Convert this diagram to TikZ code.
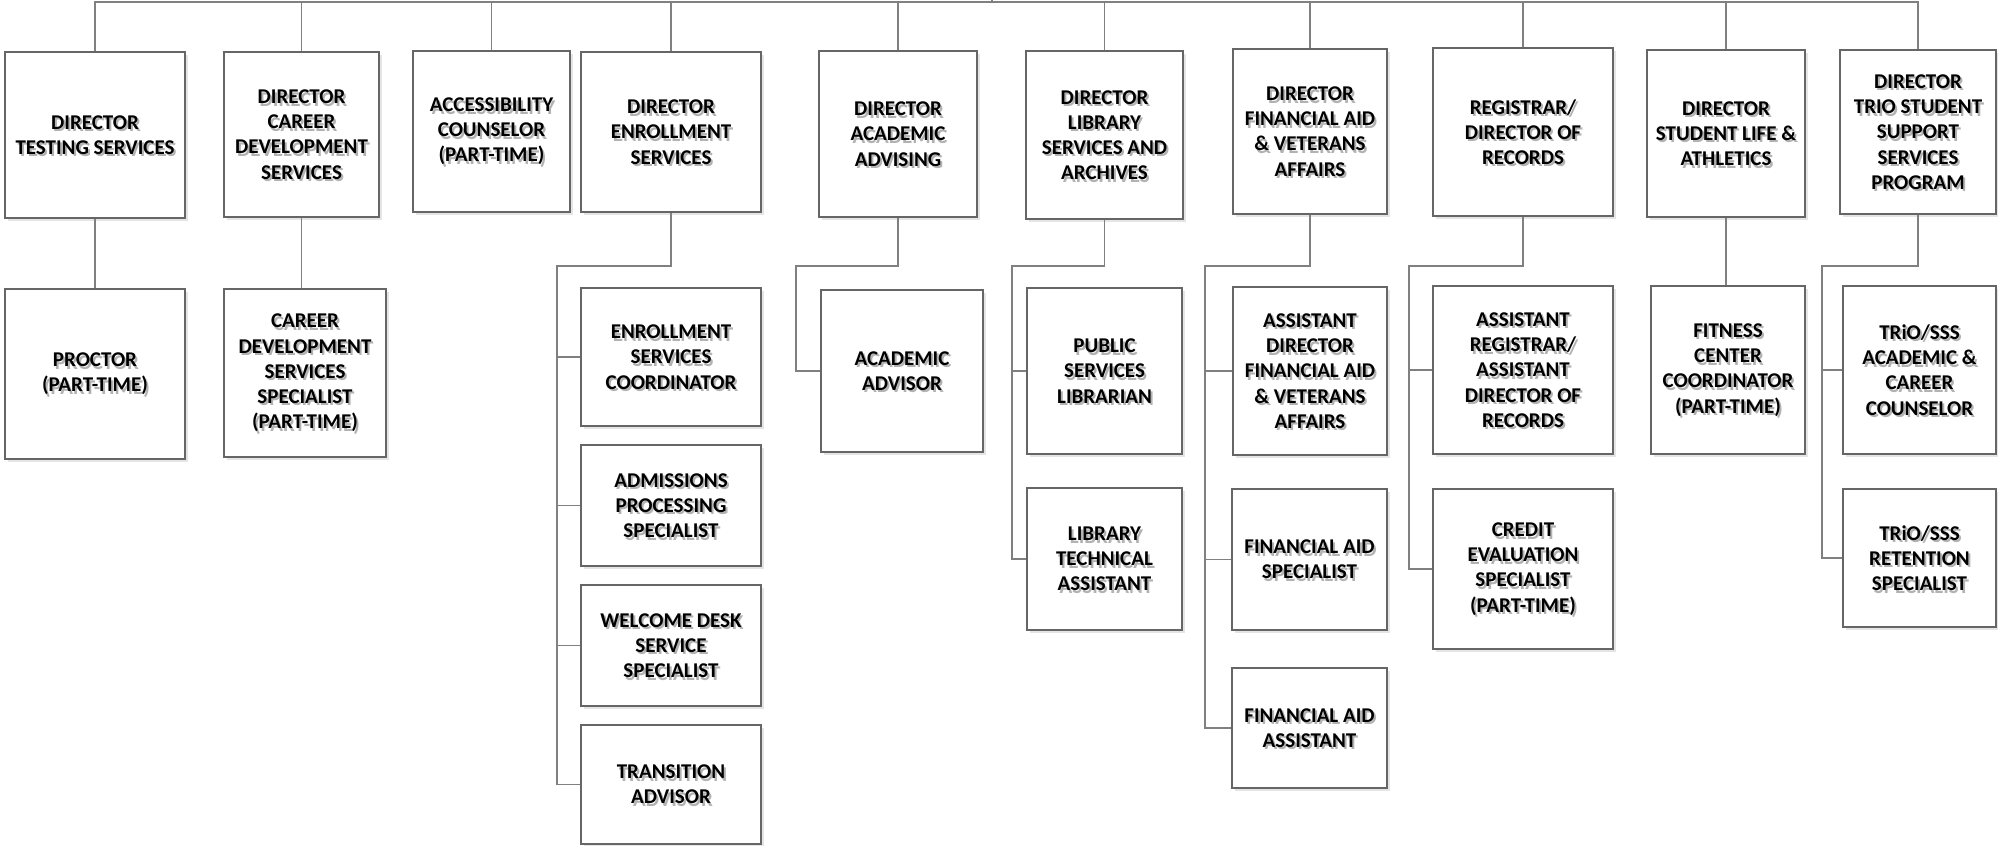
\documentclass[tikz,border=0pt]{standalone}
\usepackage{fontspec}
\setmainfont{Carlito}
\usepackage{tikz}
\usetikzlibrary{shadows}
\tikzset{jobbox/.style={draw=black!60, line width=0.75pt, fill=white, inner sep=0pt,
    drop shadow={shadow xshift=1.5pt, shadow yshift=-1.5pt, fill=black!10, opacity=1}}}
\tikzset{jobtext/.style={align=center, inner sep=0pt, text=black,
    font=\fontsize{10.5}{12.6}\selectfont\bfseries}}
\tikzset{jobshade/.style={jobtext, text=black!30}}
\tikzset{link/.style={draw=black!50, line width=0.75pt}}

\begin{document}
\begin{tikzpicture}[x=0.5pt,y=-0.5pt]
\useasboundingbox (0,0) rectangle (1998,846);

% boxes: name / left / top / right / bottom / text
\foreach \n/\xa/\ya/\xb/\yb/\txt in {
  dts/5/52/185/218/{DIRECTOR\\TESTING SERVICES},
  dcd/224/52/379/217/{DIRECTOR\\CAREER\\DEVELOPMENT\\SERVICES},
  acc/413/51/570/212/{ACCESSIBILITY\\COUNSELOR\\(PART-TIME)},
  den/581/52/761/212/{DIRECTOR\\ENROLLMENT\\SERVICES},
  daa/819/51/977/217/{DIRECTOR\\ACADEMIC\\ADVISING},
  dls/1026/51/1183/219/{DIRECTOR\\LIBRARY\\SERVICES AND\\ARCHIVES},
  dfa/1233/49/1387/214/{DIRECTOR\\FINANCIAL AID\\\& VETERANS\\AFFAIRS},
  reg/1433/48/1613/216/{REGISTRAR/\\DIRECTOR OF\\RECORDS},
  dsl/1647/50/1805/217/{DIRECTOR\\STUDENT LIFE \&\\ATHLETICS},
  dtr/1840/50/1996/214/{DIRECTOR\\TRIO STUDENT\\SUPPORT\\SERVICES\\PROGRAM},
  pro/5/289/185/459/{PROCTOR\\(PART-TIME)},
  cds/224/289/386/457/{CAREER\\DEVELOPMENT\\SERVICES\\SPECIALIST\\(PART-TIME)},
  esc/581/288/761/426/{ENROLLMENT\\SERVICES\\COORDINATOR},
  aps/581/445/761/566/{ADMISSIONS\\PROCESSING\\SPECIALIST},
  wds/581/585/761/706/{WELCOME DESK\\SERVICE\\SPECIALIST},
  tra/581/725/761/844/{TRANSITION\\ADVISOR},
  aad/821/290/983/452/{ACADEMIC\\ADVISOR},
  psl/1027/288/1182/454/{PUBLIC\\SERVICES\\LIBRARIAN},
  lta/1027/488/1182/630/{LIBRARY\\TECHNICAL\\ASSISTANT},
  adf/1233/287/1387/455/{ASSISTANT\\DIRECTOR\\FINANCIAL AID\\\& VETERANS\\AFFAIRS},
  fas/1232/489/1387/630/{FINANCIAL AID\\SPECIALIST},
  faa/1232/668/1387/788/{FINANCIAL AID\\ASSISTANT},
  arg/1433/286/1613/454/{ASSISTANT\\REGISTRAR/\\ASSISTANT\\DIRECTOR OF\\RECORDS},
  ces/1433/489/1613/649/{CREDIT\\EVALUATION\\SPECIALIST\\(PART-TIME)},
  fcc/1651/286/1805/454/{FITNESS\\CENTER\\COORDINATOR\\(PART-TIME)},
  tac/1843/286/1996/454/{TRiO/SSS\\ACADEMIC \&\\CAREER\\COUNSELOR},
  trs/1843/489/1996/627/{TRiO/SSS\\RETENTION\\SPECIALIST}}
{
  \node[jobbox, minimum width={(\xb-\xa)*0.5pt}, minimum height={(\yb-\ya)*0.5pt}]
    (\n) at ({(\xa+\xb)/2},{(\ya+\yb)/2}) {};
  \node[jobshade] (\n-s) at ({(\xa+\xb)/2+2},{(\ya+\yb)/2+2.5}) {\txt};
  \node[jobtext] (\n-t) at ({(\xa+\xb)/2},{(\ya+\yb)/2}) {\txt};
}

% top bus
\coordinate (top) at (0,2);
\coordinate (up) at (992,0);
\draw[link] (dts.north) |- (top -| dtr.north) -- (dtr.north);
\draw[link] (up) -- (up |- top);
\foreach \n in {dcd,acc,den,daa,dls,dfa,reg,dsl}
  \draw[link] (\n.north) -- (\n.north |- top);

% single reports
\draw[link] (dts.south) -- (pro.north);
\draw[link] (dcd.south) -- (dcd.south |- cds.north);
\draw[link] (dsl.south) -- (dsl.south |- fcc.north);

% enrollment
\coordinate (enb) at (557,266);
\draw[link] (den.south) |- (enb) |- (tra.west);
\foreach \c in {esc,aps,wds}
  \draw[link] (enb |- \c.west) -- (\c.west);

% advising
\coordinate (aab) at (796,266);
\draw[link] (daa.south) |- (aab) |- (aad.west);

% library
\coordinate (lsb) at (1012,266);
\draw[link] (dls.south) |- (lsb) |- (lta.west);
\draw[link] (lsb |- psl.west) -- (psl.west);

% financial aid
\coordinate (fab) at (1205,266);
\draw[link] (dfa.south) |- (fab) |- (faa.west);
\foreach \c in {adf,fas}
  \draw[link] (fab |- \c.west) -- (\c.west);

% registrar
\coordinate (rgb) at (1409,266);
\draw[link] (reg.south) |- (rgb) |- (ces.west);
\draw[link] (rgb |- arg.west) -- (arg.west);

% trio
\coordinate (trb) at (1822,266);
\draw[link] (dtr.south) |- (trb) |- (trs.west);
\draw[link] (trb |- tac.west) -- (tac.west);

\end{tikzpicture}
\end{document}
